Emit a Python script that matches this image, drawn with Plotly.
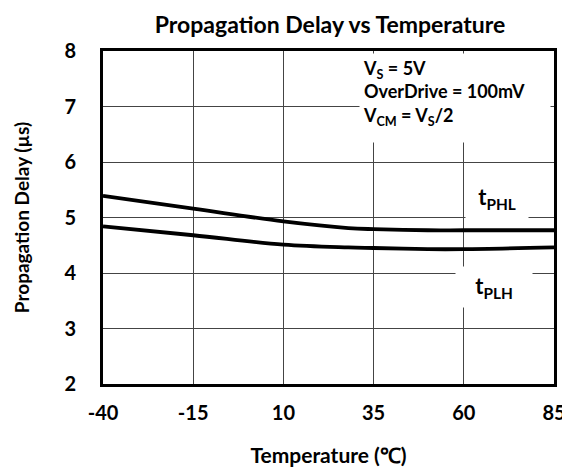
import plotly.graph_objects as go

temps = [-40, -15, 10, 28, 35, 50, 60, 85]
t_phl = [5.39, 5.16, 4.93, 4.81, 4.79, 4.77, 4.77, 4.77]
t_plh = [4.84, 4.68, 4.51, 4.46, 4.45, 4.43, 4.43, 4.46]
x_ticks = [-40, -15, 10, 35, 60, 85]
y_ticks = [2, 3, 4, 5, 6, 7, 8]

FONT = "Lato"

fig = go.Figure()
for ys in (t_phl, t_plh):
    fig.add_trace(go.Scatter(x=temps, y=ys, mode="lines",
                             line=dict(color="black", width=3.8, shape="spline", smoothing=1.0),
                             showlegend=False, hoverinfo="skip"))

fig.update_layout(
    width=570, height=469,
    margin=dict(l=95, r=20, t=43, b=90),
    paper_bgcolor="white", plot_bgcolor="white",
    font=dict(family=FONT, color="black"),
    title=dict(text="<b>Propagation Delay vs Temperature</b>", x=0.565, xanchor="center",
               y=0.963, yanchor="middle", font=dict(size=23, family=FONT)),
    xaxis=dict(range=[-40, 85], tickvals=x_ticks, ticktext=[f"<b>{v}</b>" for v in x_ticks],
               showgrid=True, gridcolor="#444", gridwidth=1,
               showline=True, linecolor="black", linewidth=3, mirror=True,
               ticks="outside", ticklen=9, tickcolor="rgba(0,0,0,0)",
               tickfont=dict(size=20, family=FONT), zeroline=False,
               title=dict(text="<b>Temperature (℃)</b>", font=dict(size=21, family=FONT), standoff=26)),
    yaxis=dict(range=[2, 8], tickvals=y_ticks, ticktext=[f"<b>{v}</b>" for v in y_ticks],
               showgrid=True, gridcolor="#444", gridwidth=1,
               showline=True, linecolor="black", linewidth=3, mirror=True,
               ticks="outside", ticklen=20, tickcolor="rgba(0,0,0,0)",
               tickfont=dict(size=20, family=FONT), zeroline=False,
               title=dict(text="<b>Propagation Delay (µs)</b>", font=dict(size=19, family=FONT), standoff=30)),
)

fig.add_annotation(x=31, y=8, xref="x", yref="y", xanchor="left", yanchor="top", yshift=-2,
                   text="<b>V<sub>S</sub> = 5V<br>OverDrive = 100mV<br>V<sub>CM</sub> = V<sub>S</sub>/2</b>",
                   align="left", valign="top", width=184, height=82, showarrow=False,
                   bgcolor="white", borderpad=3, font=dict(size=18, family=FONT))
fig.add_annotation(x=69.3, y=5.36, xref="x", yref="y", text="<b>t<sub>PHL</sub></b>",
                   width=58, height=40, showarrow=False, bgcolor="white", borderpad=2,
                   font=dict(size=22, family=FONT))
fig.add_annotation(x=68.5, y=3.75, xref="x", yref="y", text="<b>t<sub>PLH</sub></b>",
                   width=72, height=36, showarrow=False, bgcolor="white", borderpad=2,
                   font=dict(size=22, family=FONT))

fig.write_html("out.html")
